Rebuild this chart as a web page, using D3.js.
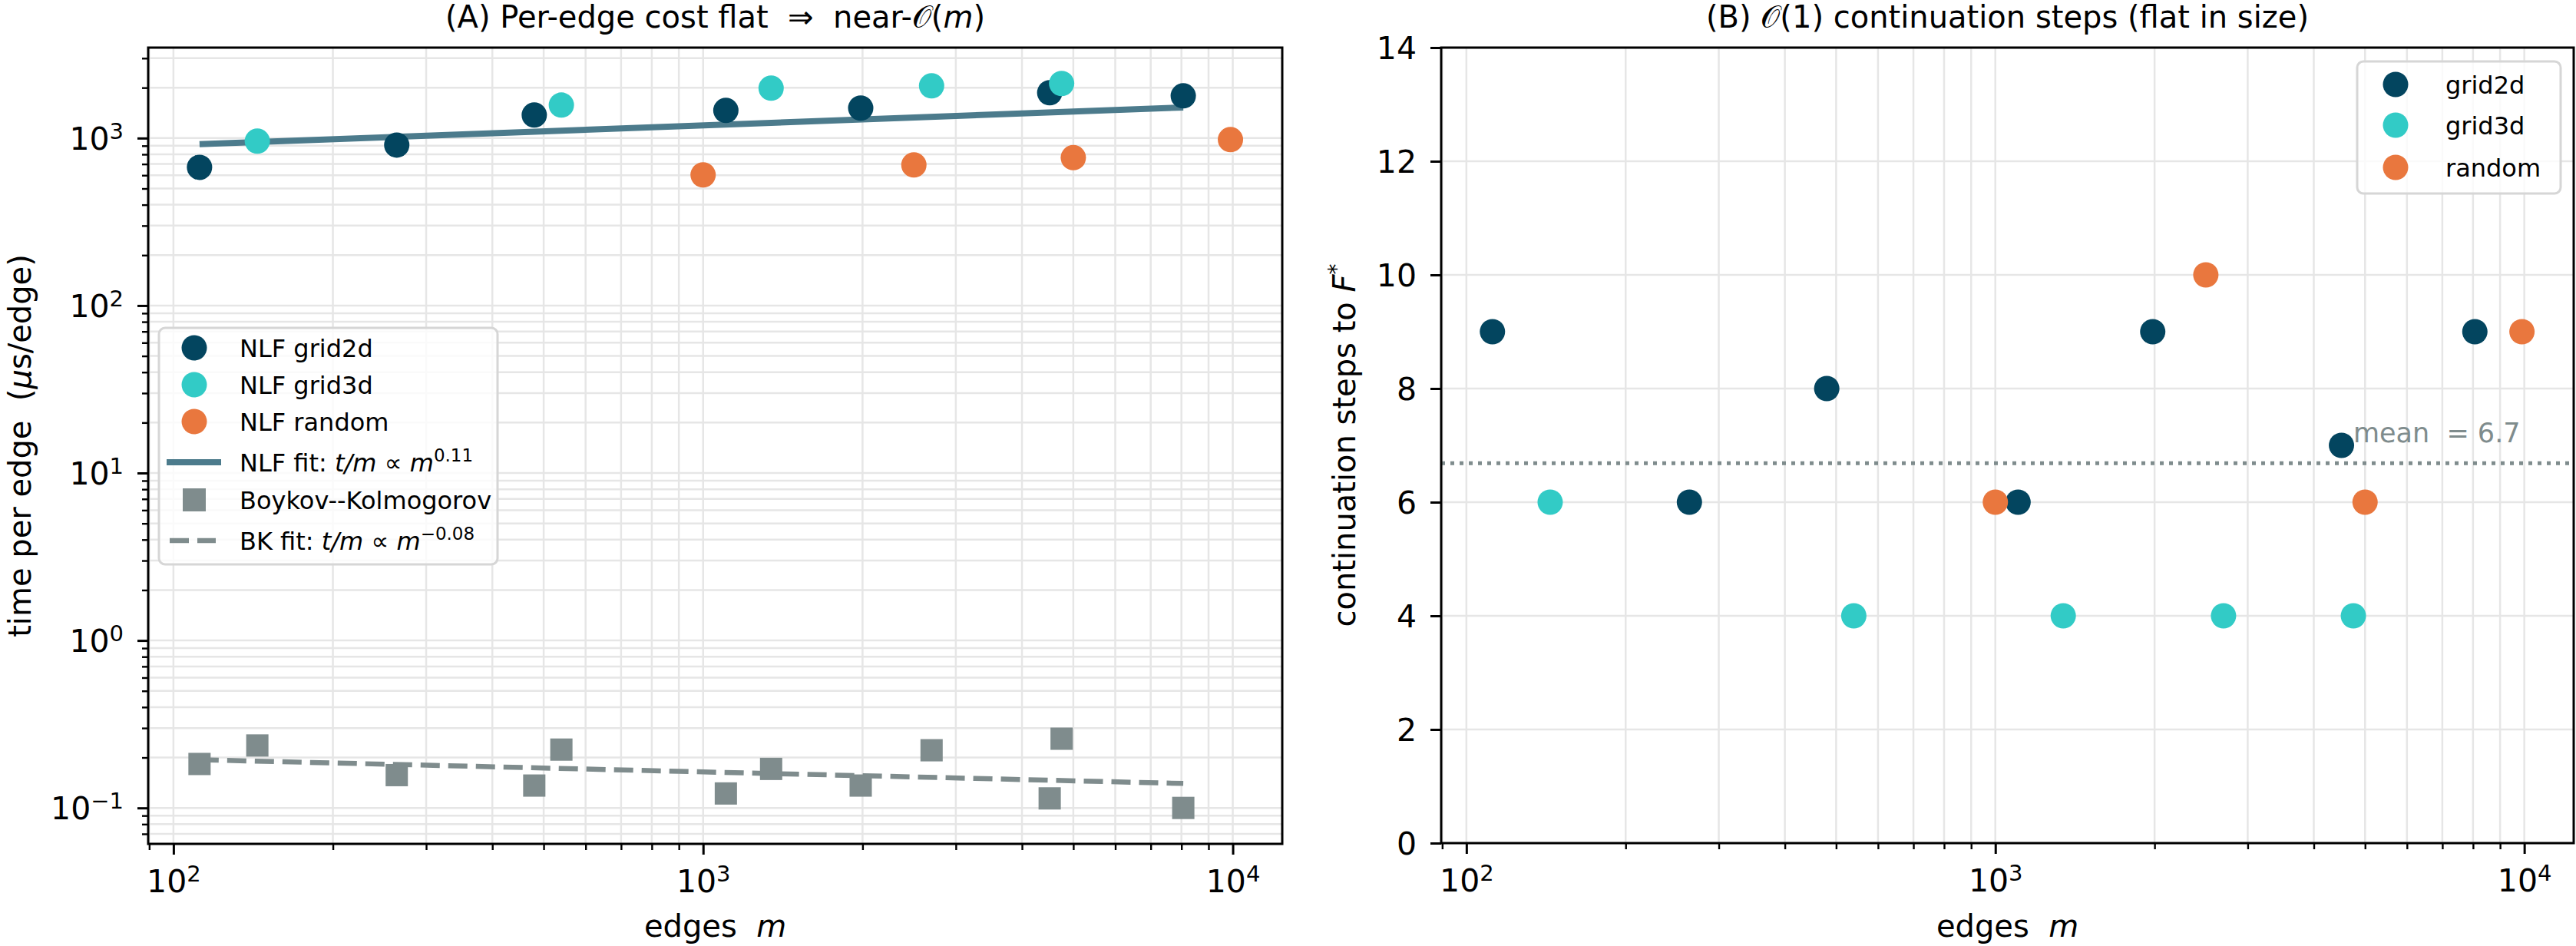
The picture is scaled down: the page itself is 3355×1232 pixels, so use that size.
<!DOCTYPE html>
<html><head><meta charset="utf-8">
<script src="https://cdn.jsdelivr.net/npm/d3@7"></script>
<style>body{margin:0;background:#fff} text{font-family:"DejaVu Sans";white-space:pre}</style>
</head><body>
<svg id="c" width="3355" height="1232" xmlns="http://www.w3.org/2000/svg"></svg>
<script>
// ---------------- data ----------------
const seriesNames = ["grid2d", "grid3d", "random"];
const mGrid2d = [112, 264, 480, 1104, 1984, 4512, 8064];
const mGrid3d = [144, 540, 1344, 2700, 4752];
const mRandom = [1000, 2500, 5000, 9900];
const nlfGrid2d = [669, 909, 1373, 1463, 1511, 1866, 1787];
const nlfGrid3d = [959, 1574, 1986, 2051, 2118];
const nlfRandom = [603, 691, 764, 979];
const bkGrid2d = [0.183, 0.157, 0.136, 0.122, 0.136, 0.114, 0.100];
const bkGrid3d = [0.236, 0.223, 0.171, 0.221, 0.259];
const nlfFitM = [112, 8064], nlfFitT = [919, 1524];
const bkFitM = [112, 8064], bkFitT = [0.194, 0.140];
const stepsGrid2d = [9, 6, 8, 6, 9, 7, 9];
const stepsGrid3d = [6, 4, 4, 4, 4];
const stepsRandom = [6, 10, 6, 9];
const xTicks = [100, 1000, 10000];
const yTicksA = [0.1, 1, 10, 100, 1000];
const yTicksB = [0, 2, 4, 6, 8, 10, 12, 14];
const xDomain = [89.6, 12400];
const yDomainA = [0.061, 3470];
const yDomainB = [0, 14];

// ---------------- style ----------------
const COL = {grid2d: "#03455f", grid3d: "#32cbc6", random: "#e9773e", fit: "#4c7b8c", bk: "#7f8c8d"};
const GRID = "#e6e6e6";
const svg = d3.select("#c");

const xA = d3.scaleLog().domain(xDomain).range([193, 1670]);
const yA = d3.scaleLog().domain(yDomainA).range([1099, 62]);
const xB = d3.scaleLog().domain(xDomain).range([1877, 3352]);
const yB = d3.scaleLinear().domain(yDomainB).range([1098, 62]);

function minorLog(domain) {
  const out = [];
  for (let k = Math.floor(Math.log10(domain[0])); k <= Math.ceil(Math.log10(domain[1])); k++)
    for (let j = 2; j <= 9; j++) { const v = j * Math.pow(10, k); if (v >= domain[0] && v <= domain[1]) out.push(v); }
  return out;
}
function supLabel(sel, d) {
  const e = Math.round(Math.log10(d));
  sel.text(null);
  sel.append("tspan").text("10");
  sel.append("tspan").attr("dy", -14).attr("font-size", 29).text(e < 0 ? "\u2212" + (-e) : String(e));
}

function gridLines(g, x, y, xv, yv) {
  g.selectAll(null).data(xv).join("line").attr("x1", d => x(d)).attr("x2", d => x(d))
    .attr("y1", y.range()[1]).attr("y2", y.range()[0]).attr("stroke", GRID).attr("stroke-width", 2.5);
  g.selectAll(null).data(yv).join("line").attr("y1", d => y(d)).attr("y2", d => y(d))
    .attr("x1", x.range()[0]).attr("x2", x.range()[1]).attr("stroke", GRID).attr("stroke-width", 2.5);
}

function styleAxis(g) {
  g.select(".domain").remove();
  g.attr("font-family", "DejaVu Sans").attr("font-size", 41);
  g.selectAll(".tick line").attr("stroke", "#000");
  g.selectAll(".tick text").attr("fill", "#000");
}

function drawAxes(x, y, isLogY, yTicks) {
  const x0 = x.range()[0], x1 = x.range()[1], y0 = y.range()[0], y1 = y.range()[1];
  const gxm = svg.append("g").attr("transform", `translate(0,${y0})`)
    .call(d3.axisBottom(x).tickValues(minorLog(xDomain)).tickSize(8).tickFormat(""));
  styleAxis(gxm); gxm.selectAll(".tick line").attr("stroke-width", 2.4);
  const gx = svg.append("g").attr("transform", `translate(0,${y0})`)
    .call(d3.axisBottom(x).tickValues(xTicks).tickSize(14).tickPadding(0));
  styleAxis(gx); gx.selectAll(".tick line").attr("stroke-width", 3);
  gx.selectAll(".tick text").attr("y", 63).attr("dy", 0).each(function (d) { supLabel(d3.select(this), d); });
  if (isLogY) {
    const gym = svg.append("g").attr("transform", `translate(${x0},0)`)
      .call(d3.axisLeft(y).tickValues(minorLog(yDomainA)).tickSize(8).tickFormat(""));
    styleAxis(gym); gym.selectAll(".tick line").attr("stroke-width", 2.4);
  }
  const gy = svg.append("g").attr("transform", `translate(${x0},0)`)
    .call(d3.axisLeft(y).tickValues(yTicks).tickSize(14).tickPadding(18));
  styleAxis(gy); gy.selectAll(".tick line").attr("stroke-width", 3);
  gy.selectAll(".tick text").attr("dy", "0.36em");
  if (isLogY) gy.selectAll(".tick text").each(function (d) { supLabel(d3.select(this), d); });
  svg.append("rect").attr("x", x0).attr("y", y1).attr("width", x1 - x0).attr("height", y0 - y1)
    .attr("fill", "none").attr("stroke", "#000").attr("stroke-width", 3);
}

// ================= Panel A =================
const gA = svg.append("g");
gridLines(gA, xA, yA, xTicks.concat(minorLog(xDomain)), yTicksA.concat(minorLog(yDomainA)));
const line = d3.line();
gA.append("path").attr("d", line(nlfFitM.map((m, i) => [xA(m), yA(nlfFitT[i])])))
  .attr("stroke", COL.fit).attr("stroke-width", 8).attr("fill", "none");
gA.append("path").attr("d", line(bkFitM.map((m, i) => [xA(m), yA(bkFitT[i])])))
  .attr("stroke", COL.bk).attr("stroke-width", 6.5).attr("fill", "none").attr("stroke-dasharray", "25 11");
const nlfSets = [[mGrid2d, nlfGrid2d, COL.grid2d], [mGrid3d, nlfGrid3d, COL.grid3d], [mRandom, nlfRandom, COL.random]];
nlfSets.forEach(([ms, vs, c]) => {
  gA.selectAll(null).data(ms.map((m, i) => [m, vs[i]])).join("circle")
    .attr("cx", d => xA(d[0])).attr("cy", d => yA(d[1])).attr("r", 16.5).attr("fill", c);
});
const bkPts = mGrid2d.map((m, i) => [m, bkGrid2d[i]]).concat(mGrid3d.map((m, i) => [m, bkGrid3d[i]]));
gA.selectAll(null).data(bkPts).join("rect")
  .attr("x", d => xA(d[0]) - 14.5).attr("y", d => yA(d[1]) - 14.5).attr("width", 29).attr("height", 29).attr("fill", COL.bk);
drawAxes(xA, yA, true, yTicksA);

// titles / labels
function title(x, parts, y) {
  const t = svg.append("text").attr("x", x).attr("y", y).attr("text-anchor", "middle").attr("font-size", 40);
  parts.forEach(p => { const s = t.append("tspan").text(p.t); if (p.i) s.attr("font-style", "italic"); });
  return t;
}
title((xA.range()[0] + xA.range()[1]) / 2, [{t: "(A) Per-edge cost flat  \u21d2  near-"}, {t: "\ud835\udcaa"}, {t: "("}, {t: "m", i: 1}, {t: ")"}], 36);
title((xB.range()[0] + xB.range()[1]) / 2, [{t: "(B) "}, {t: "\ud835\udcaa"}, {t: "(1) continuation steps (flat in size)"}], 36);
title((xA.range()[0] + xA.range()[1]) / 2, [{t: "edges  "}, {t: "m", i: 1}], 1220);
title((xB.range()[0] + xB.range()[1]) / 2, [{t: "edges  "}, {t: "m", i: 1}], 1220);
const ylA = svg.append("text").attr("transform", `translate(40,${(yA.range()[0] + yA.range()[1]) / 2}) rotate(-90)`)
  .attr("text-anchor", "middle").attr("font-size", 40);
ylA.append("tspan").text("time per edge  (");
ylA.append("tspan").attr("font-style", "italic").text("\u03bc");
ylA.append("tspan").text("s/edge)");
const ylB = svg.append("text").attr("transform", `translate(1765,${(yB.range()[0] + yB.range()[1]) / 2}) rotate(-90)`)
  .attr("text-anchor", "middle").attr("font-size", 40);
ylB.append("tspan").text("continuation steps to ");
ylB.append("tspan").attr("font-style", "italic").text("F");
ylB.append("tspan").attr("dy", -15).attr("font-size", 28).text("*");

// legend A
const lgA = svg.append("g").attr("transform", "translate(207,427)");
lgA.append("rect").attr("width", 441).attr("height", 308).attr("rx", 8)
  .attr("fill", "#fff").attr("fill-opacity", 0.8).attr("stroke", "#d6d6d6").attr("stroke-width", 3);
const legA = [
  {k: "dot", c: COL.grid2d, y: 26, parts: [{t: "NLF grid2d"}]},
  {k: "dot", c: COL.grid3d, y: 74, parts: [{t: "NLF grid3d"}]},
  {k: "dot", c: COL.random, y: 122, parts: [{t: "NLF random"}]},
  {k: "line", c: COL.fit, y: 175, parts: [{t: "NLF fit: "}, {t: "t/m", i: 1}, {t: " \u221d "}, {t: "m", i: 1}, {t: "0.11", s: 1}]},
  {k: "sq", c: COL.bk, y: 224, parts: [{t: "Boykov--Kolmogorov"}]},
  {k: "dash", c: COL.bk, y: 277, parts: [{t: "BK fit: "}, {t: "t/m", i: 1}, {t: " \u221d "}, {t: "m", i: 1}, {t: "\u22120.08", s: 1}]},
];
legA.forEach(e => {
  if (e.k === "dot") lgA.append("circle").attr("cx", 46).attr("cy", e.y).attr("r", 16.5).attr("fill", e.c);
  if (e.k === "sq") lgA.append("rect").attr("x", 46 - 15).attr("y", e.y - 15).attr("width", 30).attr("height", 30).attr("fill", e.c);
  if (e.k === "line") lgA.append("line").attr("x1", 10).attr("x2", 81).attr("y1", e.y).attr("y2", e.y).attr("stroke", e.c).attr("stroke-width", 8);
  if (e.k === "dash") lgA.append("line").attr("x1", 14).attr("x2", 74).attr("y1", e.y).attr("y2", e.y).attr("stroke", e.c).attr("stroke-width", 6.5).attr("stroke-dasharray", "25 11");
  const t = lgA.append("text").attr("x", 105).attr("y", e.y + 12).attr("font-size", 32);
  e.parts.forEach(p => {
    const s = t.append("tspan").text(p.t);
    if (p.i) s.attr("font-style", "italic");
    if (p.s) s.attr("dy", -13).attr("font-size", 23);
  });
});

// ================= Panel B =================
const gB = svg.append("g");
gridLines(gB, xB, yB, xTicks.concat(minorLog(xDomain)), yTicksB);
const allSteps = stepsGrid2d.concat(stepsGrid3d, stepsRandom);
const meanSteps = d3.mean(allSteps);
gB.append("line").attr("x1", xB.range()[0]).attr("x2", xB.range()[1]).attr("y1", yB(meanSteps)).attr("y2", yB(meanSteps))
  .attr("stroke", COL.bk).attr("stroke-width", 5).attr("stroke-dasharray", "5 7");
gB.append("text").attr("x", xB(4750)).attr("y", yB(meanSteps) - 27).attr("font-size", 35).attr("fill", COL.bk)
  .text("mean  = " + meanSteps.toFixed(1));
const stepSets = [[mGrid2d, stepsGrid2d, COL.grid2d], [mGrid3d, stepsGrid3d, COL.grid3d], [mRandom, stepsRandom, COL.random]];
stepSets.forEach(([ms, vs, c]) => {
  gB.selectAll(null).data(ms.map((m, i) => [m, vs[i]])).join("circle")
    .attr("cx", d => xB(d[0])).attr("cy", d => yB(d[1])).attr("r", 16.5).attr("fill", c);
});
drawAxes(xB, yB, false, yTicksB);

// legend B
const lgB = svg.append("g").attr("transform", "translate(3070,80)");
lgB.append("rect").attr("width", 265).attr("height", 172).attr("rx", 8)
  .attr("fill", "#fff").attr("fill-opacity", 0.8).attr("stroke", "#d6d6d6").attr("stroke-width", 3);
const legBy = [30, 83, 138];
seriesNames.forEach((n, i) => {
  lgB.append("circle").attr("cx", 50).attr("cy", legBy[i]).attr("r", 16.5).attr("fill", COL[n]);
  lgB.append("text").attr("x", 115).attr("y", legBy[i] + 12).attr("font-size", 32).text(n);
});
</script>
</body></html>
